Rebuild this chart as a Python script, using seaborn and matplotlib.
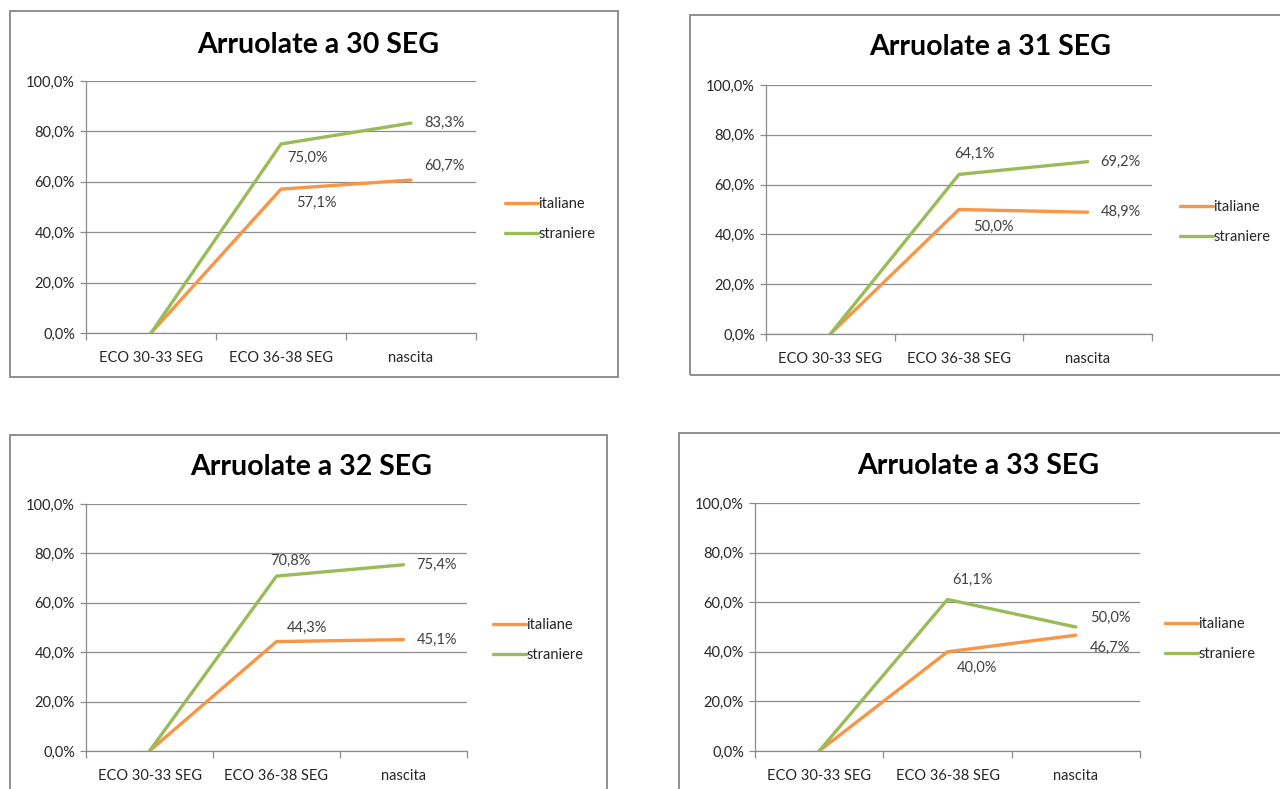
import matplotlib
matplotlib.use("Agg")
import matplotlib.pyplot as plt
import matplotlib.patches as mpatches
from matplotlib.ticker import FuncFormatter, FixedLocator
import seaborn as sns
import pandas as pd

# ---- data -------------------------------------------------------------
categories = ["ECO 30-33 SEG", "ECO 36-38 SEG", "nascita"]
series_names = ["italiane", "straniere"]
titles = ["Arruolate a 30 SEG", "Arruolate a 31 SEG",
          "Arruolate a 32 SEG", "Arruolate a 33 SEG"]

italiane_30 = [0.0, 57.1, 60.7]
straniere_30 = [0.0, 75.0, 83.3]
italiane_31 = [0.0, 50.0, 48.9]
straniere_31 = [0.0, 64.1, 69.2]
italiane_32 = [0.0, 44.3, 45.1]
straniere_32 = [0.0, 70.8, 75.4]
italiane_33 = [0.0, 40.0, 46.7]
straniere_33 = [0.0, 61.1, 50.0]

y_ticks = [0, 20, 40, 60, 80, 100]

# ---- style -------------------------------------------------------------
sns.set_theme(style="white")
plt.rcParams["font.family"] = ["Lato", "DejaVu Sans"]

W, H = 1280, 789
fig = plt.figure(figsize=(W / 100, H / 100), dpi=100)
fig.patch.set_facecolor("white")

COL = {"italiane": "#F79646", "straniere": "#9BBB59"}
GRID = "#8C8C8C"
TXT = "#262626"
LBL = "#404040"
FS = 10.5


def fx(px):
    return px / W


def fy(py):
    return 1 - py / H


def pct(v, _=None):
    return f"{v:.1f}%".replace(".", ",")


# layout (pixels): chart box, plot area, title centre, legend anchor
layouts = [
    dict(box=(10, 11, 618, 377), plot=(86, 81, 476, 333), title=(318, 45), leg=(505, 219)),
    dict(box=(690, 15, 1300, 375), plot=(766, 85, 1152, 334), title=(990, 47), leg=(1180, 222)),
    dict(box=(10, 435, 607, 810), plot=(86, 504, 467, 751), title=(311, 467), leg=(493, 640)),
    dict(box=(679, 433, 1300, 810), plot=(755, 503, 1140, 751), title=(978, 466), leg=(1165, 639)),
]

data = [
    (italiane_30, straniere_30),
    (italiane_31, straniere_31),
    (italiane_32, straniere_32),
    (italiane_33, straniere_33),
]

# value-label offsets in pixels (dx from point to label left edge, dy upward)
label_offsets = [
    {"italiane": [None, (15, -14), (13, 14)], "straniere": [None, (6, -14), (13, 0)]},
    {"italiane": [None, (14, -17), (13, 0)], "straniere": [None, (-5, 21), (13, 0)]},
    {"italiane": [None, (10, 14), (13, 0)], "straniere": [None, (-6, 15), (13, 0)]},
    {"italiane": [None, (9, -16), (14, -13)], "straniere": [None, (5, 20), (14, 9)]},
]

for lay, (ita, stra), title, offs in zip(layouts, data, titles, label_offsets):
    bx0, by0, bx1, by1 = lay["box"]
    fig.patches.append(mpatches.Rectangle(
        (fx(bx0), fy(by1)), fx(bx1 - bx0), (by1 - by0) / H,
        transform=fig.transFigure, fill=False, edgecolor="#878787",
        linewidth=1.3, zorder=0))

    px0, py0, px1, py1 = lay["plot"]
    ax = fig.add_axes([fx(px0), fy(py1), fx(px1 - px0), (py1 - py0) / H])
    ax.set_facecolor("none")

    df = pd.DataFrame({
        "fase": categories * 2,
        "valore": list(ita) + list(stra),
        "gruppo": [series_names[0]] * 3 + [series_names[1]] * 3,
    })
    sns.lineplot(data=df, x="fase", y="valore", hue="gruppo", palette=COL,
                 linewidth=2.4, sort=False, ax=ax, legend=False, zorder=3)

    ax.set_xlim(-0.5, 2.5)
    ax.set_ylim(0, 100)
    ax.set_xlabel("")
    ax.set_ylabel("")

    ax.yaxis.set_major_locator(FixedLocator(y_ticks))
    ax.yaxis.set_major_formatter(FuncFormatter(pct))
    ax.grid(axis="y", color=GRID, linewidth=0.9)
    ax.grid(axis="x", visible=False)
    ax.set_axisbelow(True)

    for s in ["top", "right"]:
        ax.spines[s].set_visible(False)
    for s in ["left", "bottom"]:
        ax.spines[s].set_color(GRID)
        ax.spines[s].set_linewidth(0.9)

    ax.tick_params(axis="y", which="major", left=True, length=4, width=0.9,
                   color=GRID, labelsize=FS, labelcolor=TXT, pad=4)
    ax.tick_params(axis="x", which="major", bottom=False, labelsize=FS,
                   labelcolor=TXT, pad=7)
    ax.xaxis.set_minor_locator(FixedLocator([-0.5, 0.5, 1.5, 2.5]))
    ax.tick_params(axis="x", which="minor", bottom=True, length=5, width=0.9,
                   color=GRID, direction="out")

    # value labels
    for name, vals in zip(series_names, (ita, stra)):
        for i, v in enumerate(vals):
            o = offs[name][i]
            if o is None:
                continue
            ax.annotate(pct(v), xy=(i, v), xytext=(o[0] * 0.72, o[1] * 0.72),
                        textcoords="offset points", ha="left", va="center",
                        fontsize=FS, color=LBL, zorder=4)

    tx, ty = lay["title"]
    fig.text(fx(tx), fy(ty), title, ha="center", va="center",
             fontsize=20.5, fontweight="bold", color="black")

    handles = [plt.Line2D([], [], color=COL[n], linewidth=2.4) for n in series_names]
    lx, ly = lay["leg"]
    fig.legend(handles, series_names, loc="center left",
               bbox_to_anchor=(fx(lx), fy(ly)), bbox_transform=fig.transFigure,
               frameon=False, fontsize=FS, handlelength=2.25, handletextpad=0.05,
               labelspacing=1.05, borderpad=0, borderaxespad=0,
               labelcolor=TXT)

fig.savefig("out.png", dpi=100, facecolor="white")
